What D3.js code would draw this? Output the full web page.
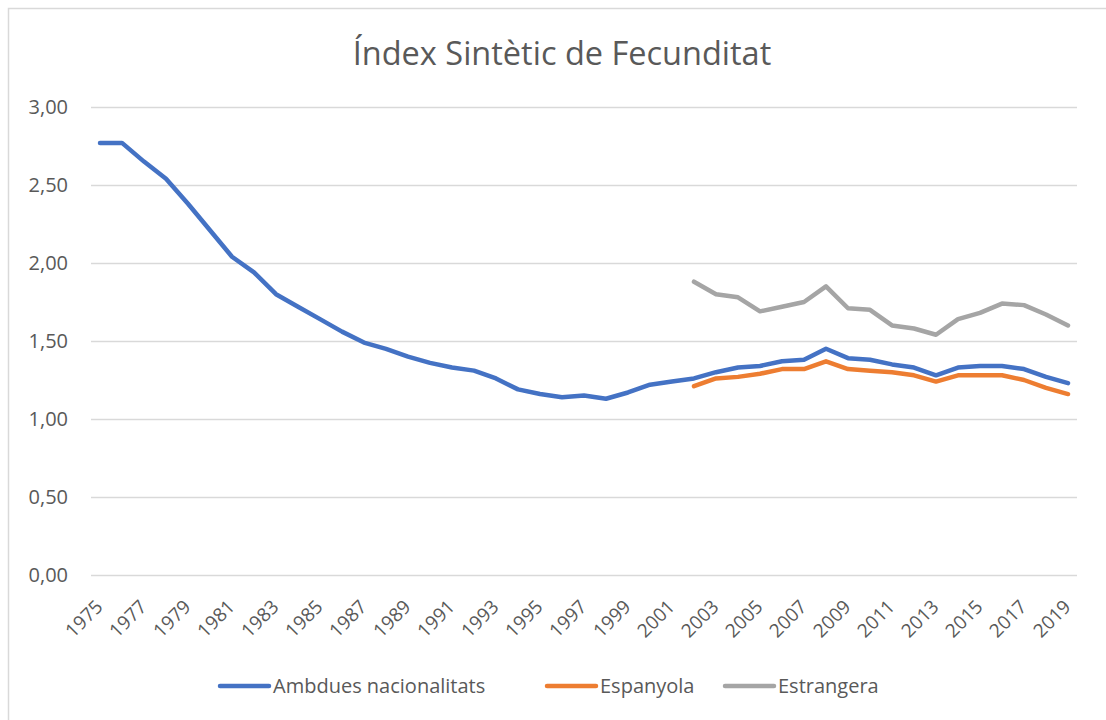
<!DOCTYPE html>
<html>
<head>
<meta charset="utf-8">
<script src="https://cdn.jsdelivr.net/npm/d3@7"></script>
<style>
  body { margin: 0; background: #fff; }
  text { font-family: "Open Sans", sans-serif; fill: #595959; }
</style>
</head>
<body>
<div id="chart"></div>
<script>

// ======================= //
// DATA
// ======================= //

var years = d3.range(1975, 2020)

var ambdues = [2.77, 2.77, 2.65, 2.54, 2.38, 2.21, 2.04, 1.94, 1.80, 1.72,
               1.64, 1.56, 1.49, 1.45, 1.40, 1.36, 1.33, 1.31, 1.26, 1.19,
               1.16, 1.14, 1.15, 1.13, 1.17, 1.22, 1.24, 1.26, 1.30, 1.33,
               1.34, 1.37, 1.38, 1.45, 1.39, 1.38, 1.35, 1.33, 1.28, 1.33,
               1.34, 1.34, 1.32, 1.27, 1.23]

// from 2002 on
var espanyola = [1.21, 1.26, 1.27, 1.29, 1.32, 1.32, 1.37, 1.32, 1.31, 1.30,
                 1.28, 1.24, 1.28, 1.28, 1.28, 1.25, 1.20, 1.16]

var estrangera = [1.88, 1.80, 1.78, 1.69, 1.72, 1.75, 1.85, 1.71, 1.70, 1.60,
                  1.58, 1.54, 1.64, 1.68, 1.74, 1.73, 1.67, 1.60]

var seriesNames = ["Ambdues nacionalitats", "Espanyola", "Estrangera"]
var seriesColors = ["#4472C4", "#ED7D31", "#A5A5A5"]

var yTicks = [0, 0.5, 1, 1.5, 2, 2.5, 3]
var xTickYears = years.filter(function(d){ return (d - 1975) % 2 == 0 })

var title = "Índex Sintètic de Fecunditat"


// ======================= //
// SVG
// ======================= //

var W = 1106, H = 720
var svg = d3.select("#chart")
  .append("svg")
    .attr("width", W)
    .attr("height", H)

// chart border (cropped on right / bottom)
svg.append("rect")
  .attr("x", 8.5).attr("y", 8.5)
  .attr("width", 1110).attr("height", 730)
  .attr("fill", "none")
  .attr("stroke", "#D9D9D9")
  .attr("stroke-width", 1.5)

var plotLeft = 89, plotRight = 1079, plotTop = 107, plotBottom = 575

// ======================= //
// SCALES
// ======================= //

var x = d3.scalePoint()
  .domain(years)
  .range([plotLeft + 11, plotRight - 11])

var y = d3.scaleLinear()
  .domain([0, 3])
  .range([plotBottom, plotTop])

// ======================= //
// GRID + Y LABELS
// ======================= //

svg.append("g")
  .selectAll("line")
  .data(yTicks)
  .enter()
  .append("line")
    .attr("x1", plotLeft + 2)
    .attr("x2", plotRight - 2)
    .attr("y1", function(d){ return Math.round(y(d)) + 0.5 })
    .attr("y2", function(d){ return Math.round(y(d)) + 0.5 })
    .attr("stroke", "#D9D9D9")
    .attr("stroke-width", 1.5)

svg.append("g")
  .selectAll("text")
  .data(yTicks)
  .enter()
  .append("text")
    .attr("x", 68)
    .attr("y", function(d){ return y(d) + 7 })
    .attr("text-anchor", "end")
    .style("font-size", "20px")
    .text(function(d){ return d3.format(".2f")(d).replace(".", ",") })

// ======================= //
// X LABELS
// ======================= //

svg.append("g")
  .selectAll("text")
  .data(xTickYears)
  .enter()
  .append("text")
    .attr("text-anchor", "end")
    .style("font-size", "19px")
    .attr("transform", function(d){
      return "translate(" + (x(d) + 4) + "," + (plotBottom + 33) + ") rotate(-45)"
    })
    .text(function(d){ return d })

// ======================= //
// LINES
// ======================= //

var line = d3.line()
  .x(function(d){ return x(d.year) })
  .y(function(d){ return y(d.value) })

var allSeries = [
  ambdues.map(function(v, i){ return {year: years[i], value: v} }),
  espanyola.map(function(v, i){ return {year: 2002 + i, value: v} }),
  estrangera.map(function(v, i){ return {year: 2002 + i, value: v} })
]

svg.append("g")
  .selectAll("path")
  .data(allSeries)
  .enter()
  .append("path")
    .attr("d", line)
    .attr("fill", "none")
    .attr("stroke", function(d, i){ return seriesColors[i] })
    .attr("stroke-width", 4.5)
    .attr("stroke-linejoin", "round")
    .attr("stroke-linecap", "round")

// ======================= //
// TITLE
// ======================= //

svg.append("text")
  .attr("x", 562)
  .attr("y", 65)
  .attr("text-anchor", "middle")
  .style("font-size", "32.5px")
  .text(title)

// ======================= //
// LEGEND
// ======================= //

var legendX = [218, 545, 723]
var legend = svg.append("g")
  .selectAll("g")
  .data(seriesNames)
  .enter()
  .append("g")
    .attr("transform", function(d, i){ return "translate(" + legendX[i] + ",686)" })

legend.append("line")
  .attr("x1", 2).attr("x2", 51)
  .attr("y1", 0).attr("y2", 0)
  .attr("stroke", function(d, i){ return seriesColors[i] })
  .attr("stroke-width", 4.5)
  .attr("stroke-linecap", "round")

legend.append("text")
  .attr("x", 55)
  .attr("y", 7)
  .style("font-size", "20px")
  .text(function(d){ return d })

</script>
</body>
</html>
